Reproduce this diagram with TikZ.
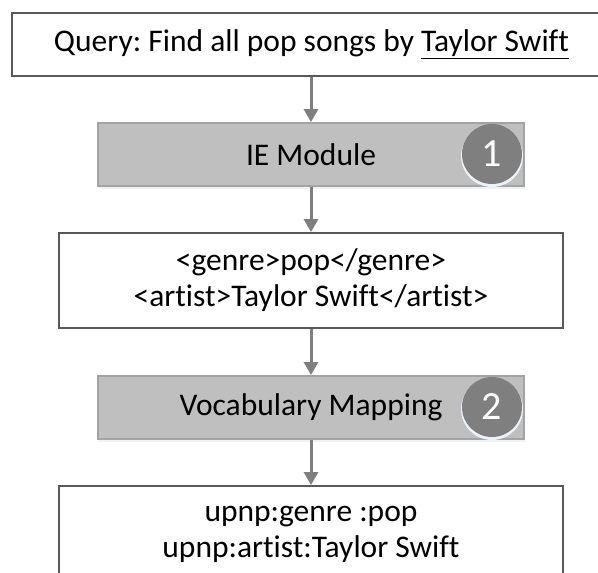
\documentclass[tikz,border=0pt]{standalone}
\usepackage{fontspec}
\setmainfont{Carlito}[Ligatures=NoCommon]
\frenchspacing
\usetikzlibrary{arrows.meta}

\definecolor{boxline}{HTML}{595959}
\definecolor{stepfill}{HTML}{BFBFBF}
\definecolor{stepline}{HTML}{A3A3A3}
\definecolor{badgefill}{HTML}{7F7F7F}
\definecolor{arrowgray}{HTML}{7F7F7F}
\definecolor{glow}{HTML}{EDF2F9}

\begin{document}
\begin{tikzpicture}[x=1pt, y=-1pt,
  txt/.style={font=\fontsize{31.5}{36}\selectfont, align=center, text=black},
  plainbox/.style={txt, draw=boxline, line width=1.8pt, fill=white, inner sep=0pt},
  stepbox/.style={txt, draw=stepline, line width=1.8pt, fill=stepfill, inner sep=0pt,
                  minimum width=426pt, minimum height=63pt},
  badge/.style={circle, fill=badgefill, inner sep=0pt, minimum size=60pt,
                text=white, font=\fontsize{40}{40}\selectfont},
  flow/.style={draw=arrowgray, line width=3pt,
               -{Triangle[length=13pt, width=14pt]}}
]
\useasboundingbox (0,0) rectangle (598,573);
\clip (0,0) rectangle (598,573);
\fill[white] (0,0) rectangle (598,573);

% faint glow under the two processing steps
\fill[glow] (99,126) rectangle (525,189);
\fill[glow] (99,379) rectangle (525,442);

% boxes of the pipeline
\node[plainbox, minimum width=599pt, minimum height=63pt] (query) at (311.5,44.5)
  {Query: Find all pop songs by \underline{Taylor Swift}};
\node[stepbox] (ie) at (311,154.5) {IE Module};
\node[plainbox, minimum width=504pt, minimum height=95pt] (tags) at (311,280.5)
  {<genre>pop</genre>\\<artist>Taylor Swift</artist>};
\node[stepbox] (vocab) at (311,407.5) {Vocabulary Mapping};
\node[plainbox, minimum width=504pt, minimum height=96pt] (triples) at (311,534)
  {upnp:genre :pop\\upnp:artist:Taylor Swift};

% numbered badges
\fill[glow] (492,156) circle (31pt);
\node[badge] (b1) at (492,154) {1};
\fill[glow] (492,409) circle (31pt);
\node[badge] (b2) at (492,407) {2};

% connectors
\draw[flow] (ie.north |- query.south) -- (ie.north);
\draw[flow] (ie.south) -- (tags.north);
\draw[flow] (tags.south) -- (vocab.north);
\draw[flow] (vocab.south) -- (triples.north);
\end{tikzpicture}
\end{document}
